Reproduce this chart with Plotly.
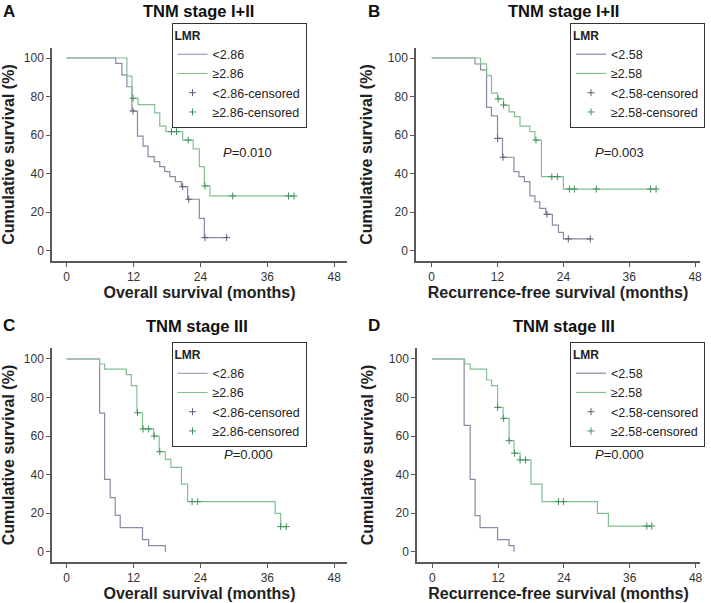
import plotly.graph_objects as go

# ---------------- data ----------------
# Panel A: TNM stage I+II, overall survival, LMR cut-off 2.86
a_low_t = [0, 8.8, 9.9, 10.8, 11.7, 12.7, 13.7, 14.6, 15.7, 16.7, 17.6, 18.5, 19.5, 20.6, 21.7, 23.8, 24.7, 28.7]
a_low_s = [100, 97.2, 91.2, 85.1, 72.5, 59.5, 54.3, 48.8, 46.2, 43.6, 41.0, 38.4, 35.8, 33.2, 26.7, 16.8, 6.8, 6.8]
a_high_t = [0, 10.8, 11.7, 12.8, 15.8, 16.7, 17.8, 20.8, 22.7, 23.8, 24.7, 25.7, 40.8]
a_high_s = [100, 90.6, 79.1, 75.8, 71.5, 64.7, 61.8, 57.4, 52.8, 43.6, 33.6, 28.4, 28.4]
a_low_ct = [11.9, 20.8, 21.9, 24.8, 28.7]
a_low_cs = [72.5, 33.2, 26.7, 6.8, 6.8]
a_high_ct = [11.9, 18.8, 19.7, 21.8, 24.8, 29.8, 39.8, 40.8]
a_high_cs = [79.1, 61.8, 61.8, 57.4, 33.6, 28.4, 28.4, 28.4]

# Panel B: TNM stage I+II, recurrence-free survival, LMR cut-off 2.58
b_low_t = [0, 7.9, 8.9, 10.0, 10.9, 12.0, 12.9, 15.0, 15.9, 16.9, 17.9, 18.8, 19.7, 20.8, 22.0, 23.1, 24.0, 28.9]
b_low_s = [100, 96.9, 93.8, 74.4, 70.0, 58.3, 48.5, 41.0, 38.4, 35.8, 28.4, 25.4, 22.0, 18.9, 13.3, 9.5, 6.1, 6.1]
b_high_t = [0, 8.9, 10.0, 10.9, 12.0, 13.1, 14.1, 15.1, 16.1, 17.9, 18.8, 20.0, 24.0, 40.9]
b_high_s = [100, 97.0, 90.9, 81.8, 78.8, 75.6, 72.0, 69.6, 64.7, 61.8, 57.4, 38.4, 32.0, 32.0]
b_low_ct = [12.0, 13.0, 21.0, 24.9, 28.9]
b_low_cs = [58.3, 48.5, 18.9, 6.1, 6.1]
b_high_ct = [12.1, 13.1, 19.0, 21.9, 22.9, 25.1, 26.0, 30.0, 39.9, 40.9]
b_high_cs = [78.8, 75.6, 57.4, 38.4, 38.4, 32.0, 32.0, 32.0, 32.0, 32.0]

# Panel C: TNM stage III, overall survival, LMR cut-off 2.86
c_low_t = [0, 5.9, 6.8, 7.8, 8.7, 9.6, 13.6, 14.7, 17.7]
c_low_s = [100, 71.9, 37.5, 28.1, 18.8, 12.5, 6.25, 3.1, 0]
c_high_t = [0, 5.9, 6.8, 10.7, 11.6, 12.6, 13.6, 15.6, 16.6, 17.7, 18.7, 20.6, 21.7, 37.4, 38.4, 39.4]
c_high_s = [100, 97.4, 94.7, 91.9, 86.2, 72.1, 63.7, 60.0, 51.9, 47.9, 43.8, 35.1, 26.0, 19.9, 13.0, 13.0]
c_low_ct = []
c_low_cs = []
c_high_ct = [12.7, 13.7, 14.7, 15.7, 16.7, 22.5, 23.5, 38.4, 39.4]
c_high_cs = [72.1, 63.7, 63.7, 60.0, 51.9, 26.0, 26.0, 13.0, 13.0]

# Panel D: TNM stage III, recurrence-free survival, LMR cut-off 2.58
d_low_t = [0, 5.8, 6.9, 7.8, 8.7, 11.9, 14.0, 14.9]
d_low_s = [100, 65.6, 37.5, 18.75, 12.5, 6.25, 3.1, 0]
d_high_t = [0, 5.9, 6.9, 9.9, 10.8, 11.9, 12.9, 14.0, 14.9, 16.0, 18.0, 20.0, 30.1, 32.1, 40.0]
d_high_s = [100, 97.4, 94.7, 89.1, 86.2, 74.9, 69.2, 57.6, 51.1, 47.6, 35.1, 26.0, 19.9, 13.3, 13.3]
d_low_ct = []
d_low_cs = []
d_high_ct = [11.9, 13.0, 14.0, 15.0, 16.0, 17.0, 23.0, 23.9, 39.1, 40.0]
d_high_cs = [74.9, 69.2, 57.6, 51.1, 47.6, 47.6, 26.0, 26.0, 13.3, 13.3]

panel_letters = ["A", "B", "C", "D"]
panel_titles = ["TNM stage I+II", "TNM stage I+II", "TNM stage III", "TNM stage III"]
x_titles = ["Overall survival (months)", "Recurrence-free survival (months)",
            "Overall survival (months)", "Recurrence-free survival (months)"]
cutoffs = ["2.86", "2.58", "2.86", "2.58"]
p_values = ["0.010", "0.003", "0.000", "0.000"]
x_ticks = [0, 12, 24, 36, 48]
y_ticks = [0, 20, 40, 60, 80, 100]

# ---------------- styling ----------------
FONT = "Liberation Sans, Arial, sans-serif"
GRAY_LINE = "#8a8aa3"
GRAY_CENS = "#5d5d75"
GREEN_LINE = "#82c093"
GREEN_CENS = "#3f925a"
W, H = 711, 603

def px_x(p):
    return p / W

def px_y(p):
    return 1 - p / H

# pixel boxes of plotting areas: (x0, x1, ytop, ybottom)
boxes = [(52, 347, 48, 261), (416, 700, 48, 261), (52, 347, 348, 562), (417, 700, 348, 562)]
x_ranges = [[-2.64, 50.3], [-2.86, 48.9], [-2.64, 50.3], [-2.79, 48.8]]
y_ranges = [[-5.35, 105.2], [-5.35, 105.2], [-5.35, 105.7], [-5.35, 105.7]]
p_pos = [(32.5, 51.0), (34.3, 51.0), (32.6, 50.6), (34.2, 50.6)]
legend_pos = [(239, 23, "center"), (705, 23, "right"), (239, 342, "center"), (705, 342, "right")]
# (x px, y px, yanchor)
letter_pos = [(1, 0, "top"), (366, 0, "top"), (1, 325, "middle"), (366, 325, "middle")]
title_pos = [(198, 0, "top"), (563, 0, "top"), (197, 326, "middle"), (564, 326, "middle")]

data_sets = [
    (a_low_t, a_low_s, a_high_t, a_high_s, a_low_ct, a_low_cs, a_high_ct, a_high_cs),
    (b_low_t, b_low_s, b_high_t, b_high_s, b_low_ct, b_low_cs, b_high_ct, b_high_cs),
    (c_low_t, c_low_s, c_high_t, c_high_s, c_low_ct, c_low_cs, c_high_ct, c_high_cs),
    (d_low_t, d_low_s, d_high_t, d_high_s, d_low_ct, d_low_cs, d_high_ct, d_high_cs),
]

fig = go.Figure()
layout = dict(
    width=W, height=H, margin=dict(l=0, r=0, t=0, b=0),
    paper_bgcolor="white", plot_bgcolor="white", template="none",
    font=dict(family=FONT, color="#222"),
    annotations=[],
)

for i, (lt, ls, ht, hs, lct, lcs, hct, hcs) in enumerate(data_sets):
    n = i + 1
    xa = "x" if n == 1 else f"x{n}"
    ya = "y" if n == 1 else f"y{n}"
    lg = "legend" if n == 1 else f"legend{n}"
    c = cutoffs[i]
    fig.add_trace(go.Scatter(x=lt, y=ls, mode="lines", line=dict(color=GRAY_LINE, width=1.2, shape="hv"),
                             name="<" + c, xaxis=xa, yaxis=ya, legend=lg))
    fig.add_trace(go.Scatter(x=ht, y=hs, mode="lines", line=dict(color=GREEN_LINE, width=1.2, shape="hv"),
                             name="\u2265" + c, xaxis=xa, yaxis=ya, legend=lg))
    fig.add_trace(go.Scatter(x=lct if lct else [None], y=lcs if lcs else [None], mode="markers",
                             marker=dict(symbol="cross-thin", size=5, line=dict(color=GRAY_CENS, width=1)),
                             name="<" + c + "-censored", xaxis=xa, yaxis=ya, legend=lg))
    fig.add_trace(go.Scatter(x=hct, y=hcs, mode="markers",
                             marker=dict(symbol="cross-thin", size=5, line=dict(color=GREEN_CENS, width=1)),
                             name="\u2265" + c + "-censored", xaxis=xa, yaxis=ya, legend=lg))

    x0, x1, yt, yb = boxes[i]
    axis_common = dict(
        showline=True, linecolor="#5a5a5a", linewidth=1.5, mirror=False,
        ticks="outside", ticklen=4, tickwidth=1.2, tickcolor="#5a5a5a",
        showgrid=False, zeroline=False, automargin=False,
        tickfont=dict(family=FONT, size=12, color="#333"),
    )
    layout["xaxis" if n == 1 else f"xaxis{n}"] = dict(
        axis_common, domain=[px_x(x0), px_x(x1)], range=x_ranges[i],
        tickvals=x_ticks, anchor=ya,
        title=dict(text="<b>" + x_titles[i] + "</b>", font=dict(family=FONT, size=16, color="#222"), standoff=3),
    )
    layout["yaxis" if n == 1 else f"yaxis{n}"] = dict(
        axis_common, domain=[px_y(yb), px_y(yt)], range=y_ranges[i],
        tickvals=y_ticks, anchor=xa,
        title=dict(text="<b>Cumulative survival (%)</b>", font=dict(family=FONT, size=16, color="#222"), standoff=11),
    )
    lx, ly, lxa = legend_pos[i]
    layout[lg] = dict(
        x=px_x(lx), y=px_y(ly), xanchor=lxa, yanchor="top", xref="paper", yref="paper",
        bgcolor="white", bordercolor="#333", borderwidth=1,
        font=dict(family=FONT, size=12.5, color="#222"),
        title=dict(text="<b>LMR</b>", font=dict(family=FONT, size=12, color="#222")),
        tracegroupgap=0, itemwidth=30,
    )
    layout["annotations"].append(dict(
        x=p_pos[i][0], y=p_pos[i][1], xref=xa, yref=ya, text="<i>P</i>=" + p_values[i],
        showarrow=False, font=dict(family=FONT, size=13, color="#222")))
    layout["annotations"].append(dict(
        x=px_x(letter_pos[i][0]), y=px_y(letter_pos[i][1]), xref="paper", yref="paper",
        xanchor="left", yanchor=letter_pos[i][2], text="<b>" + panel_letters[i] + "</b>",
        showarrow=False, font=dict(family=FONT, size=17, color="#111")))
    layout["annotations"].append(dict(
        x=px_x(title_pos[i][0]), y=px_y(title_pos[i][1]), xref="paper", yref="paper",
        xanchor="center", yanchor=title_pos[i][2], text="<b>" + panel_titles[i] + "</b>",
        showarrow=False, font=dict(family=FONT, size=16.5, color="#111")))

fig.update_layout(**layout)
fig.write_html("out.html", config={"displayModeBar": False},
               post_script="document.body.style.margin='0px';")
